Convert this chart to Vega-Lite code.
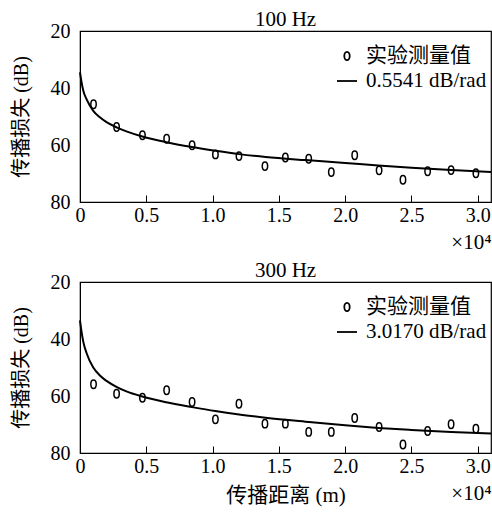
{
  "$schema": "https://vega.github.io/schema/vega-lite/v6.json",
  "padding": {"left": 10, "top": 8, "right": 1, "bottom": 4},
  "spacing": 6,
  "config": {
    "font": "Liberation Serif, Noto Sans CJK SC",
    "view": {"stroke": "black", "strokeWidth": 1.2},
    "axis": {
      "labelFont": "Liberation Serif, Noto Sans CJK SC",
      "titleFont": "Liberation Serif, Noto Sans CJK SC",
      "labelFontSize": 20,
      "titleFontSize": 20,
      "labelColor": "black",
      "titleColor": "black",
      "titleFontWeight": "normal",
      "domainColor": "black",
      "tickColor": "black",
      "grid": false
    },
    "legend": {
      "labelFont": "Liberation Serif, Noto Sans CJK SC",
      "labelFontSize": 21,
      "labelColor": "black",
      "orient": "none",
      "legendX": 256,
      "legendY": 14,
      "symbolSize": 400,
      "symbolStrokeWidth": 1.8,
      "symbolStrokeColor": "black",
      "rowPadding": 4,
      "labelOffset": 8,
      "padding": 0
    },
    "title": {
      "font": "Liberation Serif, Noto Sans CJK SC",
      "fontSize": 21,
      "fontWeight": "normal",
      "color": "black",
      "offset": -9,
      "anchor": "middle"
    }
  },
  "datasets": {
    "obs100": [
      {"r": 1020, "tl": 45.7}, {"r": 2760, "tl": 53.7}, {"r": 4710, "tl": 56.6}, {"r": 6535, "tl": 57.8},
      {"r": 8455, "tl": 60.1}, {"r": 10215, "tl": 63.3}, {"r": 11990, "tl": 63.9}, {"r": 13950, "tl": 67.4},
      {"r": 15490, "tl": 64.4}, {"r": 17250, "tl": 64.8}, {"r": 18955, "tl": 69.5}, {"r": 20720, "tl": 63.6},
      {"r": 22560, "tl": 68.9}, {"r": 24360, "tl": 72.2}, {"r": 26220, "tl": 69.2}, {"r": 27990, "tl": 68.8},
      {"r": 29860, "tl": 69.9}
    ],
    "obs300": [
      {"r": 1020, "tl": 55.9}, {"r": 2760, "tl": 59.2}, {"r": 4710, "tl": 60.6}, {"r": 6535, "tl": 58.0},
      {"r": 8455, "tl": 62.1}, {"r": 10215, "tl": 68.2}, {"r": 11990, "tl": 62.7}, {"r": 13950, "tl": 69.7},
      {"r": 15490, "tl": 69.7}, {"r": 17250, "tl": 72.6}, {"r": 18955, "tl": 72.6}, {"r": 20720, "tl": 67.7},
      {"r": 22560, "tl": 70.9}, {"r": 24360, "tl": 77.0}, {"r": 26220, "tl": 72.3}, {"r": 27990, "tl": 69.9},
      {"r": 29860, "tl": 71.5}
    ],
    "curve100": [
      {"r": 0, "tl": 34.5}, {"r": 100, "tl": 37.5}, {"r": 250, "tl": 41.0}, {"r": 500, "tl": 44.0},
      {"r": 1000, "tl": 48.0}, {"r": 1500, "tl": 50.3}, {"r": 2000, "tl": 52.0}, {"r": 2750, "tl": 53.8},
      {"r": 3500, "tl": 55.2}, {"r": 4700, "tl": 57.0}, {"r": 6500, "tl": 59.0}, {"r": 8450, "tl": 60.7},
      {"r": 10200, "tl": 62.0}, {"r": 12000, "tl": 63.2}, {"r": 14000, "tl": 64.2}, {"r": 17000, "tl": 65.3},
      {"r": 20000, "tl": 66.3}, {"r": 22500, "tl": 67.2}, {"r": 25000, "tl": 68.0}, {"r": 28000, "tl": 68.8},
      {"r": 31000, "tl": 69.5}
    ],
    "curve300": [
      {"r": 0, "tl": 33.5}, {"r": 100, "tl": 37.0}, {"r": 250, "tl": 41.0}, {"r": 500, "tl": 45.0},
      {"r": 1000, "tl": 50.0}, {"r": 1500, "tl": 52.8}, {"r": 2000, "tl": 54.7}, {"r": 2750, "tl": 56.8},
      {"r": 3500, "tl": 58.4}, {"r": 4700, "tl": 60.2}, {"r": 6500, "tl": 62.2}, {"r": 8450, "tl": 63.9},
      {"r": 10200, "tl": 65.3}, {"r": 12000, "tl": 66.5}, {"r": 14000, "tl": 67.6}, {"r": 17000, "tl": 69.0},
      {"r": 20000, "tl": 70.3}, {"r": 22500, "tl": 71.2}, {"r": 25000, "tl": 71.9}, {"r": 28000, "tl": 72.6},
      {"r": 31000, "tl": 73.2}
    ]
  },
  "vconcat": [
    {
      "title": {"text": "100 Hz"},
      "width": 411,
      "height": 171,
      "layer": [
        {
          "data": {"name": "curve100"},
          "mark": {"type": "line", "color": "black", "strokeWidth": 2, "interpolate": "monotone"},
          "encoding": {
            "x": {"field": "r", "type": "quantitative", "scale": {"domain": [0, 31000], "nice": false},
              "axis": {"orient": "bottom", "values": [0, 5000, 10000, 15000, 20000, 25000, 30000],
                "labelExpr": "datum.value == 0 ? '0' : format(datum.value / 10000, '.1f')",
                "tickSize": -7, "labelPadding": 10, "labelFlush": false, "title": null}},
            "y": {"field": "tl", "type": "quantitative", "scale": {"domain": [20, 80], "reverse": true, "nice": false},
              "axis": {"orient": "left", "values": [20, 40, 60, 80], "ticks": false, "labelPadding": 10, "title": "传播损失 (dB)", "titlePadding": 19}}
          }
        },
        {
          "data": {"name": "obs100"},
          "mark": {"type": "point", "filled": false, "color": "black", "size": 400, "strokeWidth": 1.5, "opacity": 1},
          "encoding": {
            "x": {"field": "r", "type": "quantitative",
              "axis": {"orient": "top", "title": "×10⁴", "titleFontSize": 21, "labels": false, "ticks": false, "domain": false,
                "minExtent": 0, "maxExtent": 0, "titlePadding": 0,
                "titleAnchor": "end", "titleY": 217, "titleBaseline": "alphabetic"}},
            "y": {"field": "tl", "type": "quantitative",
              "axis": {"orient": "left", "values": [20, 40, 60, 80], "ticks": false, "labelPadding": 10, "title": "传播损失 (dB)", "titlePadding": 19}},
            "shape": {"datum": "实验测量值", "type": "nominal",
              "scale": {"domain": ["实验测量值", "0.5541 dB/rad"],
                "range": ["M0,-0.42A0.27,0.42 0 1,1 0,0.42A0.27,0.42 0 1,1 0,-0.42Z", "stroke"]},
              "legend": {"title": null}}
          }
        }
      ]
    },
    {
      "title": {"text": "300 Hz"},
      "width": 411,
      "height": 171,
      "layer": [
        {
          "data": {"name": "curve300"},
          "mark": {"type": "line", "color": "black", "strokeWidth": 2, "interpolate": "monotone"},
          "encoding": {
            "x": {"field": "r", "type": "quantitative", "scale": {"domain": [0, 31000], "nice": false},
              "axis": {"orient": "bottom", "values": [0, 5000, 10000, 15000, 20000, 25000, 30000],
                "labelExpr": "datum.value == 0 ? '0' : format(datum.value / 10000, '.1f')",
                "tickSize": -7, "labelPadding": 10, "labelFlush": false, "title": "传播距离 (m)", "titleFontSize": 21, "titlePadding": 8}},
            "y": {"field": "tl", "type": "quantitative", "scale": {"domain": [20, 80], "reverse": true, "nice": false},
              "axis": {"orient": "left", "values": [20, 40, 60, 80], "ticks": false, "labelPadding": 10, "title": "传播损失 (dB)", "titlePadding": 19}}
          }
        },
        {
          "data": {"name": "obs300"},
          "mark": {"type": "point", "filled": false, "color": "black", "size": 400, "strokeWidth": 1.5, "opacity": 1},
          "encoding": {
            "x": {"field": "r", "type": "quantitative",
              "axis": {"orient": "top", "title": "×10⁴", "titleFontSize": 21, "labels": false, "ticks": false, "domain": false,
                "minExtent": 0, "maxExtent": 0, "titlePadding": 0,
                "titleAnchor": "end", "titleY": 217, "titleBaseline": "alphabetic"}},
            "y": {"field": "tl", "type": "quantitative",
              "axis": {"orient": "left", "values": [20, 40, 60, 80], "ticks": false, "labelPadding": 10, "title": "传播损失 (dB)", "titlePadding": 19}},
            "shape": {"datum": "实验测量值", "type": "nominal",
              "scale": {"domain": ["实验测量值", "3.0170 dB/rad"],
                "range": ["M0,-0.42A0.27,0.42 0 1,1 0,0.42A0.27,0.42 0 1,1 0,-0.42Z", "stroke"]},
              "legend": {"title": null}}
          }
        }
      ]
    }
  ],
  "resolve": {"scale": {"shape": "independent"}}
}
